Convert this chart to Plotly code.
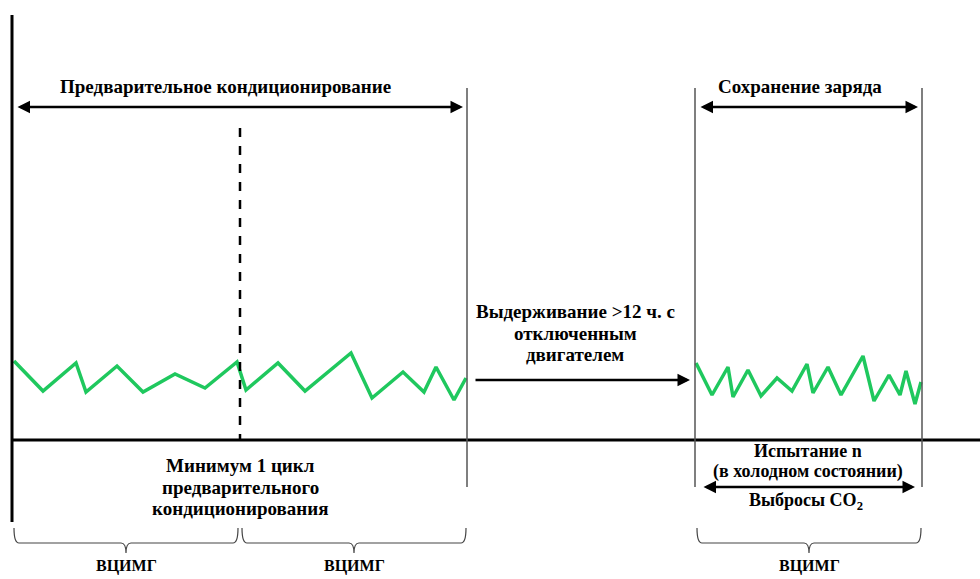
import plotly.graph_objects as go

# фазы испытания (горизонтальная шкала в условных единицах = пиксели схемы)
phase_x = [12, 240, 467, 695, 922]

# профиль скорости ВЦИМГ, цикл 1 и 2 (предварительное кондиционирование)
pre_x = [14, 43, 76, 86, 117, 143, 175, 205, 237, 246, 278, 305, 351, 372, 403, 424, 436, 454, 466]
pre_y = [361, 391, 363, 392, 366, 392, 374, 388, 362, 390, 363, 391, 353, 398, 372, 392, 367, 400, 378]

# профиль скорости ВЦИМГ, испытание n
test_x = [696, 712, 728, 733, 748, 761, 777, 792, 807, 813, 828, 841, 863, 874, 889, 900, 906, 915, 921]
test_y = [363, 395, 367, 397, 370, 396, 378, 391, 364, 393, 367, 395, 356, 401, 375, 395, 371, 404, 382]

brace_labels = ["ВЦИМГ", "ВЦИМГ", "ВЦИМГ"]

FONT = "Liberation Serif"
GREEN = "#1FC85E"

fig = go.Figure()
fig.add_trace(go.Scatter(x=pre_x, y=pre_y, mode="lines",
                         line=dict(color=GREEN, width=3.5), hoverinfo="skip"))
fig.add_trace(go.Scatter(x=test_x, y=test_y, mode="lines",
                         line=dict(color=GREEN, width=3.5), hoverinfo="skip"))

# оси
fig.add_shape(type="line", x0=12, x1=12, y0=15, y1=522, line=dict(color="black", width=3))
fig.add_shape(type="line", x0=12, x1=980, y0=440, y1=440, line=dict(color="black", width=3))
# границы фаз
for px in phase_x[2:]:
    fig.add_shape(type="line", x0=px, x1=px, y0=88, y1=487, line=dict(color="#555555", width=1.5))
fig.add_shape(type="line", x0=phase_x[1], x1=phase_x[1], y0=128, y1=440,
              line=dict(color="black", width=2.5, dash="dash"))


def arrow(x0, x1, y, both=True):
    fig.add_annotation(x=x1, y=y, ax=x0, ay=y, xref="x", yref="y", axref="x", ayref="y",
                       text="", showarrow=True, arrowhead=2, arrowsize=1, arrowwidth=2.5,
                       arrowcolor="black", arrowside="end+start" if both else "end")


def label(x, y, txt, size=19):
    fig.add_annotation(x=x, y=y, text=f"<b>{txt}</b>", showarrow=False, xref="x", yref="y",
                       font=dict(family=FONT, size=size, color="black"), align="center")


arrow(16, 463, 107)
arrow(699, 918, 107)
arrow(474, 690, 380, both=False)
arrow(702, 915, 487)

label(225, 86, "Предварительное кондиционирование")
label(800, 86, "Сохранение заряда")
for yy, t in zip([311, 333, 354], ["Выдерживание >12 ч. с", "отключенным", "двигателем"]):
    label(575, yy, t)
for yy, t in zip([465, 487, 508], ["Минимум 1 цикл", "предварительного", "кондиционирования"]):
    label(240, yy, t)
label(808, 451, "Испытание n", size=18)
label(808, 471, "(в холодном состоянии)", size=18)
label(806, 501, "Выбросы CO<sub>2</sub>", size=18)

# фигурные скобки
braces = [(14, 238), (242, 466), (697, 921)]
for (a, b), txt in zip(braces, brace_labels):
    m = (a + b) / 2
    r = 5
    path = (f"M {a},528 Q {a},{543} {a + r},{543} L {m - r},543 Q {m},543 {m},553 "
            f"Q {m},543 {m + r},543 L {b - r},543 Q {b},543 {b},528")
    fig.add_shape(type="path", path=path, line=dict(color="#444444", width=1.2))
    label(m, 566, txt, size=16)

fig.update_layout(
    width=980, height=579,
    margin=dict(l=0, r=0, t=0, b=0),
    plot_bgcolor="white", paper_bgcolor="white",
    showlegend=False,
    xaxis=dict(range=[0, 980], visible=False, fixedrange=True),
    yaxis=dict(range=[579, 0], visible=False, fixedrange=True),
)

fig.write_html("out.html", config={"displayModeBar": False},
               post_script="document.body.style.margin='0';document.body.style.overflow='hidden';")
